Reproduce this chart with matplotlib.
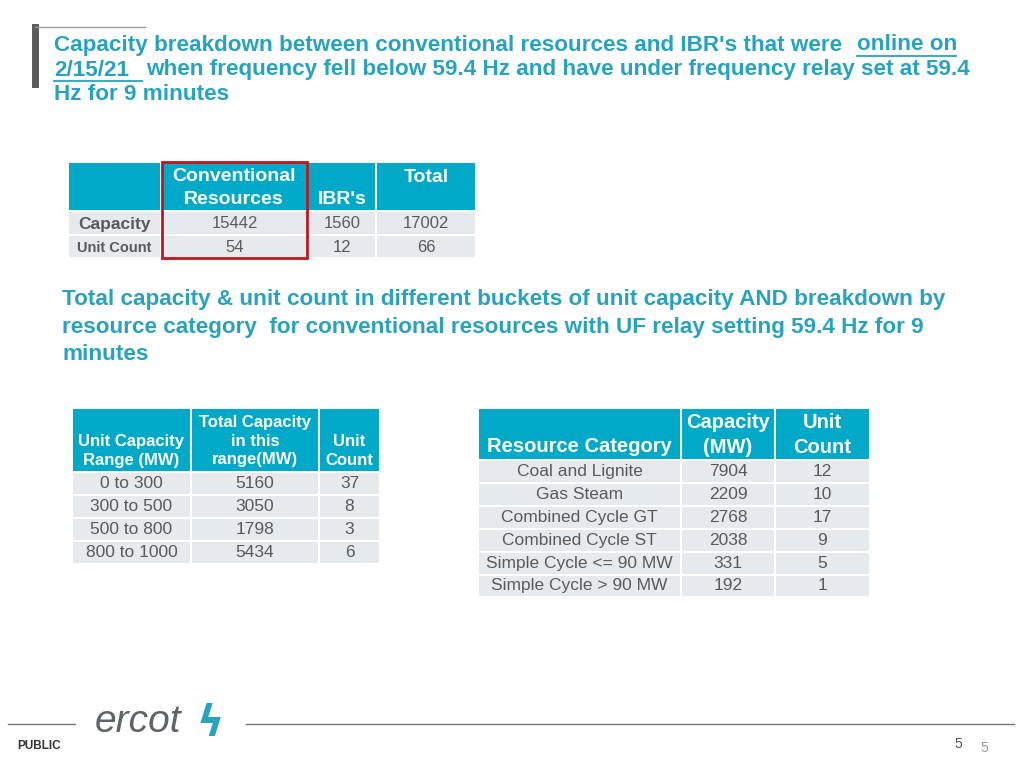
import matplotlib
matplotlib.use("Agg")
import matplotlib.pyplot as plt
from matplotlib.patches import Rectangle

t1_cols = ["", "Conventional\nResources", "IBR's", "Total"]
t1_rows = ["Capacity", "Unit Count"]
t1_capacity = [15442, 1560, 17002]
t1_units = [54, 12, 66]

t2_header = ["Unit Capacity\nRange (MW)", "Total Capacity\nin this\nrange(MW)", "Unit\nCount"]
t2_ranges = ["0 to 300", "300 to 500", "500 to 800", "800 to 1000"]
t2_capacity = [5160, 3050, 1798, 5434]
t2_units = [37, 8, 3, 6]

t3_header = ["Resource Category", "Capacity\n(MW)", "Unit\nCount"]
t3_cats = ["Coal and Lignite", "Gas Steam", "Combined Cycle GT", "Combined Cycle ST",
           "Simple Cycle <= 90 MW", "Simple Cycle > 90 MW"]
t3_capacity = [7904, 2209, 2768, 2038, 331, 192]
t3_units = [12, 10, 17, 9, 5, 1]

HDR = "#00A9C8"
ROW = "#E7EAED"
TEAL = "#27A3C0"
GRAY = "#5A5A5A"

fig = plt.figure(figsize=(10.24, 7.68), dpi=100)
ax = fig.add_axes([0, 0, 1, 1])
ax.set_xlim(0, 1024); ax.set_ylim(768, 0); ax.axis("off")

def cell(x0, x1, y0, y1, c):
    ax.add_patch(Rectangle((x0 + 1, y0 + 1), x1 - x0 - 2, y1 - y0 - 2, color=c, lw=0))

def txt(x, y, s, size=11, color=GRAY, weight="normal", ha="center", va="center", ls=1.0, style="normal"):
    ax.text(x, y, s, fontsize=size, color=color, fontweight=weight, ha=ha, va=va,
            linespacing=ls, family="Liberation Sans", fontstyle=style)

TS = 16.2
# title
ax.plot([35, 35], [27, 84], color=GRAY, lw=5)
ax.plot([35, 145], [27, 27], color="#999999", lw=1)
txt(54, 45, "Capacity breakdown between conventional resources and IBR's that were", TS, TEAL, "bold", "left")
txt(857, 45, "online on", TS, TEAL, "bold", "left")
ax.plot([857, 956], [56, 56], color=TEAL, lw=1.3)
txt(54, 70, "2/15/21", TS, TEAL, "bold", "left")
ax.plot([54, 142], [81, 81], color=TEAL, lw=1.3)
txt(146, 70, "when frequency fell below 59.4 Hz and have under frequency relay set at 59.4", TS, TEAL, "bold", "left")
txt(54, 95, "Hz for 9 minutes", TS, TEAL, "bold", "left")

# table 1
xs = [68, 161, 308, 376, 476]
cell(xs[0], xs[1], 162, 211, HDR)
cell(xs[1], xs[3], 162, 211, HDR)
cell(xs[3], xs[4], 162, 211, HDR)
txt(234, 188, t1_cols[1], 14, "white", "bold", ls=1.4)
txt(342, 200, t1_cols[2], 14, "white", "bold")
txt(426, 177, t1_cols[3], 14, "white", "bold")
rowy = [(211, 235), (235, 258)]
vals = [t1_capacity, t1_units]
for i, (y0, y1) in enumerate(rowy):
    for j in range(4):
        cell(xs[j], xs[j + 1], y0, y1, ROW)
    txt((xs[0] + xs[1]) / 2, (y0 + y1) / 2 + 1, t1_rows[i], 12.5 if i == 0 else 10.5, GRAY, "bold")
    for j, v in enumerate(vals[i]):
        txt((xs[j + 1] + xs[j + 2]) / 2, (y0 + y1) / 2 + 1, str(v), 12)
ax.add_patch(Rectangle((162, 162), 145, 96, fill=False, ec="#C0161E", lw=2))

# subtitle
txt(62, 300, "Total capacity & unit count in different buckets of unit capacity AND breakdown by", TS, TEAL, "bold", "left")
txt(62, 327, "resource category  for conventional resources with UF relay setting 59.4 Hz for 9", TS, TEAL, "bold", "left")
txt(62, 354, "minutes", TS, TEAL, "bold", "left")

# table 2
xs = [72, 191, 319, 380]
for j in range(3):
    cell(xs[j], xs[j + 1], 408, 472, HDR)
txt(131, 451, t2_header[0], 12, "white", "bold", ls=1.3)
txt(255, 441, t2_header[1], 12, "white", "bold", ls=1.3)
txt(349, 451, t2_header[2], 12, "white", "bold", ls=1.3)
h = 23
for i in range(len(t2_ranges)):
    y0 = 472 + i * h
    for j in range(3):
        cell(xs[j], xs[j + 1], y0, y0 + h, ROW)
    for j, s in enumerate([t2_ranges[i], t2_capacity[i], t2_units[i]]):
        txt((xs[j] + xs[j + 1]) / 2, y0 + h / 2, str(s), 12.5)

# table 3
xs = [478, 681, 775, 870]
for j in range(3):
    cell(xs[j], xs[j + 1], 408, 460, HDR)
txt(579, 446, t3_header[0], 14.5, "white", "bold")
txt(728, 435, t3_header[1], 14.5, "white", "bold", ls=1.4)
txt(822, 435, t3_header[2], 14.5, "white", "bold", ls=1.4)
h = 22.9
for i in range(len(t3_cats)):
    y0 = 460 + i * h
    for j in range(3):
        cell(xs[j], xs[j + 1], y0, y0 + h, ROW)
    for j, s in enumerate([t3_cats[i], t3_capacity[i], t3_units[i]]):
        txt((xs[j] + xs[j + 1]) / 2, y0 + h / 2, str(s), 12.5)

# footer
ax.plot([8, 75], [724, 724], color="#777777", lw=1)
ax.plot([246, 1014], [724, 724], color="#777777", lw=1)
txt(95, 722, "ercot", 28, "#5F6368", "normal", "left", style="italic")
ax.text(210, 724, "\u03DF", fontsize=30, color=TEAL, ha="center", va="center", fontweight="bold")
txt(17, 746, "PUBLIC", 8.5, "#333333", "bold", "left")
txt(958, 744, "5", 10, "#555555")
txt(984, 748, "5", 10, "#999999")

fig.savefig("out.png", dpi=100)
